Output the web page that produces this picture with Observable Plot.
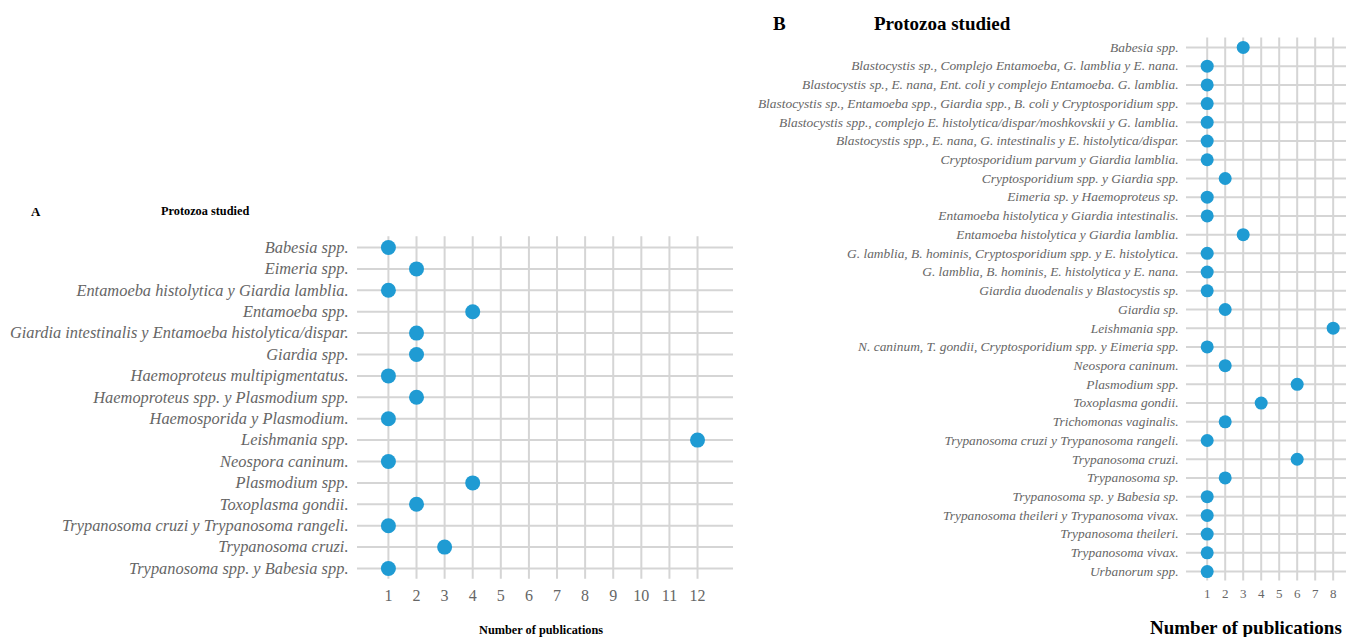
<!DOCTYPE html>
<html><head><meta charset="utf-8">
<script src="https://cdn.jsdelivr.net/npm/d3@7"></script>
<script src="https://cdn.jsdelivr.net/npm/@observablehq/plot@0.6"></script>
<style>
body{margin:0;background:#fff;width:1346px;height:637px;overflow:hidden;position:relative;font-family:"Liberation Serif","Times New Roman",serif}
.t{position:absolute;font-weight:bold;color:#000;white-space:nowrap;line-height:1}
#a,#b{position:absolute;top:0}
</style></head><body>
<div id="a" style="left:0"></div><div id="b" style="left:740px"></div>
<div class="t" style="left:31px;top:205px;font-size:13px">A</div>
<div class="t" style="left:161px;top:205px;font-size:12.3px">Protozoa studied</div>
<div class="t" style="left:479px;top:624px;font-size:12.3px">Number of publications</div>
<div class="t" style="left:773px;top:14px;font-size:19px">B</div>
<div class="t" style="left:874px;top:14px;font-size:19px">Protozoa studied</div>
<div class="t" style="left:1150px;top:618px;font-size:19px">Number of publications</div>
<script>
const catsA = ["Babesia spp.","Eimeria spp.","Entamoeba histolytica y Giardia lamblia.","Entamoeba spp.","Giardia intestinalis y Entamoeba histolytica/dispar.","Giardia spp.","Haemoproteus multipigmentatus.","Haemoproteus spp. y Plasmodium spp.","Haemosporida y Plasmodium.","Leishmania spp.","Neospora caninum.","Plasmodium spp.","Toxoplasma gondii.","Trypanosoma cruzi y Trypanosoma rangeli.","Trypanosoma cruzi.","Trypanosoma spp. y Babesia spp."];
const valsA = [1,2,1,4,2,2,1,2,1,12,1,4,2,1,3,1];
const xTicksA = [1,2,3,4,5,6,7,8,9,10,11,12];

const catsB = ["Babesia spp.","Blastocystis sp., Complejo Entamoeba, G. lamblia y E. nana.","Blastocystis sp., E. nana, Ent. coli y complejo Entamoeba. G. lamblia.","Blastocystis sp., Entamoeba spp., Giardia spp., B. coli y Cryptosporidium spp.","Blastocystis spp., complejo E. histolytica/dispar/moshkovskii y G. lamblia.","Blastocystis spp., E. nana, G. intestinalis y E. histolytica/dispar.","Cryptosporidium parvum y Giardia lamblia.","Cryptosporidium spp. y Giardia spp.","Eimeria sp. y Haemoproteus sp.","Entamoeba histolytica y Giardia intestinalis.","Entamoeba histolytica y Giardia lamblia.","G. lamblia, B. hominis, Cryptosporidium spp. y E. histolytica.","G. lamblia, B. hominis, E. histolytica y E. nana.","Giardia duodenalis y Blastocystis sp.","Giardia sp.","Leishmania spp.","N. caninum, T. gondii, Cryptosporidium spp. y Eimeria spp.","Neospora caninum.","Plasmodium spp.","Toxoplasma gondii.","Trichomonas vaginalis.","Trypanosoma cruzi y Trypanosoma rangeli.","Trypanosoma cruzi.","Trypanosoma sp.","Trypanosoma sp. y Babesia sp.","Trypanosoma theileri y Trypanosoma vivax.","Trypanosoma theileri.","Trypanosoma vivax.","Urbanorum spp."];
const valsB = [3,1,1,1,1,1,1,2,1,1,3,1,1,1,2,8,1,2,6,4,2,1,6,2,1,1,1,1,1];
const xTicksB = [1,2,3,4,5,6,7,8];

const font = '"Liberation Serif","Times New Roman",serif';
const grid = "#d5d5d5", dotColor = "#1f9bd3", txt = "#666666";

function panel(cats, vals, ticks, o) {
  const data = cats.map((c, i) => ({c, v: vals[i]}));
  return Plot.plot({
    width: o.width, height: 637,
    marginLeft: o.ml, marginRight: o.mr, marginTop: o.mt, marginBottom: o.mb,
    style: {fontFamily: font, background: "transparent", overflow: "visible"},
    x: {domain: o.xd, label: null},
    y: {type: "point", domain: cats, padding: 0.5, round: false, label: null},
    marks: [
      Plot.ruleX(ticks, {stroke: grid, strokeWidth: 2}),
      Plot.ruleY(cats, {stroke: grid, strokeWidth: 2}),
      Plot.dot(data, {x: "v", y: "c", r: o.r, fill: dotColor}),
      Plot.axisX(ticks, {tickSize: 0, tickPadding: o.xpad, fontSize: o.xfs, fill: txt}),
      Plot.axisY({tickSize: 0, tickPadding: o.ypad, fontSize: o.yfs, fontStyle: "italic", fill: txt})
    ]
  });
}

document.getElementById("a").append(panel(catsA, valsA, xTicksA,
  {width: 740, ml: 357, mr: 7, mt: 236.3, mb: 58.3, xd: [-0.1, 13.28], r: 7.5, xpad: 10, xfs: 16, ypad: 9, yfs: 16.4}));
document.getElementById("b").append(panel(catsB, valsB, xTicksB,
  {width: 606, ml: 446, mr: 0, mt: 37.6, mb: 56.6, xd: [-0.15, 8.74], r: 6.5, xpad: 8, xfs: 13, ypad: 8, yfs: 13.4}));
</script>
</body></html>
